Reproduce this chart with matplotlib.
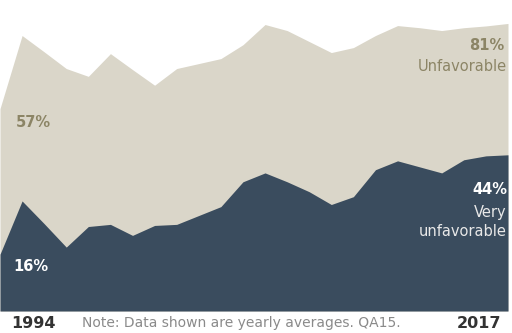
import matplotlib
matplotlib.use("Agg")
import matplotlib.pyplot as plt

years = list(range(1994, 2018))
unfavorable = [57, 77.6, 73, 68.3, 66.1, 72.5, 68, 63.6, 68.3, 69.7, 71.1, 75,
               80.7, 79, 75.9, 72.8, 74.2, 77.6, 80.4, 79.8, 79, 79.8, 80.3, 81]
very_unfavorable = [16, 31, 24.6, 18, 23.8, 24.4, 21.3, 24.1, 24.4, 26.9, 29.4, 36.4,
                    38.9, 36.4, 33.6, 30, 32.2, 39.8, 42.3, 40.6, 38.9, 42.6, 43.7, 44]

LIGHT = "#dad6c9"
DARK = "#3a4c5e"
OLIVE = "#8c8566"

W, H = 512, 333
fig = plt.figure(figsize=(W / 100, H / 100), dpi=100)
y0 = 311
ax = fig.add_axes([0, (H - y0) / H, 508 / W, y0 / H])
ax.fill_between(years, 0, unfavorable, color=LIGHT, linewidth=0)
ax.fill_between(years, 0, very_unfavorable, color=DARK, linewidth=0)
ax.set_xlim(years[0], years[-1])
ax.set_ylim(0, y0 / 3.55)
ax.axis("off")

fam = ["DejaVu Sans"]
fs = 10.5
ax.text(years[0] + 0.7, unfavorable[0] - 3.8, f"{unfavorable[0]:.0f}%", color=OLIVE,
        fontsize=fs, fontweight="bold", va="center", ha="left", family=fam)
ax.text(years[0] + 0.6, very_unfavorable[0] - 3.6, f"{very_unfavorable[0]:.0f}%", color="white",
        fontsize=fs, fontweight="bold", va="center", ha="left", family=fam)
ax.text(years[-1] - 0.15, unfavorable[-1] - 6.3, f"{unfavorable[-1]:.0f}%", color=OLIVE,
        fontsize=fs, fontweight="bold", va="center", ha="right", family=fam)
ax.text(years[-1] - 0.05, unfavorable[-1] - 12.2, "Unfavorable", color=OLIVE,
        fontsize=fs, va="center", ha="right", family=fam)
ax.text(years[-1] - 0.05, very_unfavorable[-1] - 9.8, f"{very_unfavorable[-1]:.0f}%", color="white",
        fontsize=fs, fontweight="bold", va="center", ha="right", family=fam)
ax.text(years[-1] - 0.05, very_unfavorable[-1] - 16.3, "Very", color="#e8e8e8",
        fontsize=fs, va="center", ha="right", family=fam)
ax.text(years[-1] - 0.05, very_unfavorable[-1] - 21.7, "unfavorable", color="#e8e8e8",
        fontsize=fs, va="center", ha="right", family=fam)

fig.text(11 / W, 1 - 323 / H, str(years[0]), color="#333333", fontsize=11.5,
         fontweight="bold", va="center", ha="left", family=fam)
fig.text(501 / W, 1 - 323 / H, str(years[-1]), color="#333333", fontsize=11.5,
         fontweight="bold", va="center", ha="right", family=fam)
fig.text(82 / W, 1 - 323 / H, "Note: Data shown are yearly averages. QA15.", color="#8a8a8a",
         fontsize=10, va="center", ha="left", family=fam)

fig.savefig("out.png", dpi=100, facecolor="white")
